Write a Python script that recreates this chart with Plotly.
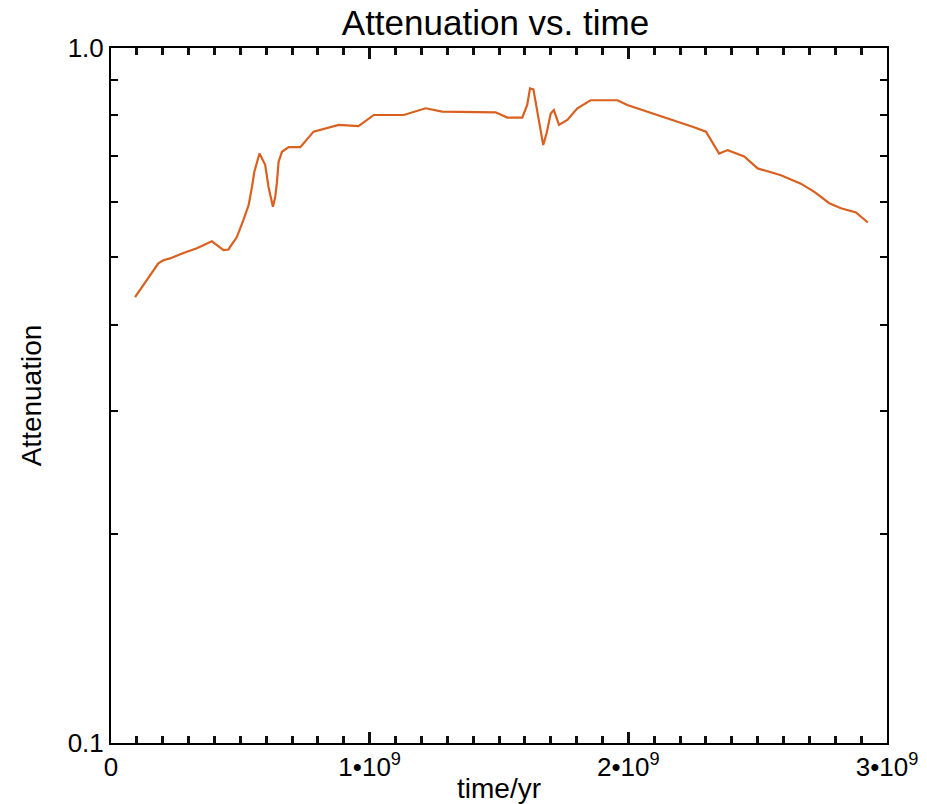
import plotly.graph_objects as go

time_yr = [0.093e9, 0.125e9, 0.151e9, 0.183e9, 0.2025e9, 0.228e9, 0.280e9, 0.332e9, 0.390e9, 0.409e9,
           0.435e9, 0.454e9, 0.487e9, 0.512e9, 0.532e9, 0.545e9, 0.554e9, 0.574e9, 0.583e9, 0.596e9,
           0.609e9, 0.626e9, 0.635e9, 0.641e9, 0.648e9, 0.661e9, 0.687e9, 0.732e9, 0.783e9, 0.848e9,
           0.880e9, 0.957e9, 1.016e9, 1.132e9, 1.216e9, 1.280e9, 1.487e9, 1.532e9, 1.590e9, 1.609e9,
           1.620e9, 1.633e9, 1.645e9, 1.658e9, 1.671e9, 1.684e9, 1.700e9, 1.712e9, 1.732e9, 1.764e9,
           1.803e9, 1.854e9, 1.958e9, 1.996e9, 2.074e9, 2.151e9, 2.254e9, 2.300e9, 2.326e9, 2.351e9,
           2.384e9, 2.448e9, 2.500e9, 2.590e9, 2.667e9, 2.719e9, 2.777e9, 2.822e9, 2.880e9, 2.926e9]
attenuation = [0.438, 0.456, 0.471, 0.490, 0.495, 0.498, 0.507, 0.515, 0.527, 0.521,
               0.512, 0.513, 0.535, 0.566, 0.594, 0.631, 0.663, 0.705, 0.693, 0.679,
               0.631, 0.591, 0.611, 0.638, 0.686, 0.709, 0.720, 0.720, 0.758, 0.769,
               0.775, 0.772, 0.801, 0.801, 0.819, 0.810, 0.808, 0.794, 0.794, 0.828,
               0.875, 0.872, 0.819, 0.770, 0.725, 0.754, 0.805, 0.814, 0.775, 0.788,
               0.819, 0.841, 0.841, 0.828, 0.810, 0.792, 0.769, 0.758, 0.729, 0.705,
               0.713, 0.698, 0.671, 0.656, 0.638, 0.621, 0.598, 0.588, 0.580, 0.561]

x_tickvals = [0, 1e9, 2e9, 3e9]
x_ticktext = ["0", "1•10<sup>9</sup>", "2•10<sup>9</sup>", "3•10<sup>9</sup>"]
x_minor_step = 1e8
y_tickvals = [0.1, 0.2, 0.3, 0.4, 0.5, 0.6, 0.7, 0.8, 0.9, 1.0]
y_ticktext = ["0.1", "", "", "", "", "", "", "", "", "1.0"]

font_family = "Liberation Sans, Arial, sans-serif"
tick_color = "#101010"

fig = go.Figure()
fig.add_trace(go.Scatter(x=time_yr, y=attenuation, mode="lines",
                         line=dict(color="#D9601E", width=2.2), showlegend=False))

fig.update_layout(
    width=927, height=804,
    margin=dict(l=111, r=40, t=48, b=61, autoexpand=False),
    paper_bgcolor="white", plot_bgcolor="white",
    font=dict(family=font_family, color="black", size=26),
    title=dict(text="Attenuation vs. time", x=495.5 / 927, xanchor="center",
               y=1 - 22.5 / 804, yanchor="middle", font=dict(size=35)),
    xaxis=dict(range=[0, 3e9], tickmode="array", tickvals=x_tickvals, ticktext=x_ticktext,
               ticks="inside", ticklen=11, tickwidth=2.5, tickcolor=tick_color,
               minor=dict(tickmode="linear", tick0=0, dtick=x_minor_step, ticks="inside",
                          ticklen=7, tickwidth=2.5, tickcolor=tick_color, showgrid=False),
               showline=True, linewidth=2, linecolor="black", mirror="allticks",
               gridcolor="white", zerolinecolor="white",
               tickfont=dict(size=26),
               title=dict(text="time/yr", font=dict(size=28), standoff=0)),
    yaxis=dict(type="log", range=[-1, 0], tickvals=y_tickvals, ticktext=y_ticktext,
               ticks="inside", ticklen=7, tickwidth=2, tickcolor="black",
               showline=True, linewidth=2, linecolor="black", mirror="allticks",
               gridcolor="white", zerolinecolor="white",
               tickfont=dict(size=26),
               title=dict(text="Attenuation", font=dict(size=28), standoff=18)),
)

fig.write_html("out.html")
